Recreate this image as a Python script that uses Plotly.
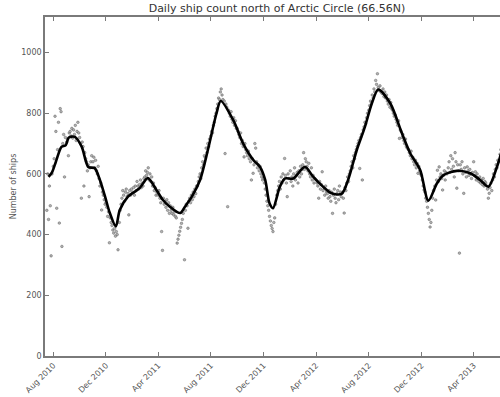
import datetime as dt
import plotly.graph_objects as go

# ---- Data ----
title_text = "Daily ship count north of Arctic Circle (66.56N)"

# Smoothed trend (knots)
line_dates = ["2010-07-21", "2010-07-29", "2010-08-07", "2010-08-20", "2010-08-30", "2010-09-06",
              "2010-09-20", "2010-10-06", "2010-10-21", "2010-11-05", "2010-11-17", "2010-11-29",
              "2010-12-10", "2010-12-24", "2011-01-02", "2011-01-21", "2011-02-01", "2011-02-17",
              "2011-03-08", "2011-03-28", "2011-04-12", "2011-04-28", "2011-05-22", "2011-06-02",
              "2011-06-18", "2011-07-07", "2011-07-25", "2011-08-14", "2011-08-24", "2011-09-22",
              "2011-10-15", "2011-11-08", "2011-11-23", "2011-12-05", "2011-12-15", "2011-12-23",
              "2012-01-08", "2012-01-20", "2012-02-08", "2012-03-06", "2012-03-25", "2012-04-17",
              "2012-05-07", "2012-05-30", "2012-06-14", "2012-07-04", "2012-07-23", "2012-08-08",
              "2012-08-23", "2012-09-20", "2012-10-17", "2012-11-05", "2012-11-28", "2012-12-17",
              "2013-01-06", "2013-01-21", "2013-02-21", "2013-03-24", "2013-04-16", "2013-05-05",
              "2013-05-25", "2013-06-03"]
line_values = [590, 605, 640, 689, 695, 720,
               722, 689, 623, 619, 580, 525,
               471, 427, 481, 525, 537, 553,
               586, 547, 514, 492, 471, 492,
               525, 580, 678, 799, 840, 777,
               700, 645, 623, 580, 503, 487,
               558, 585, 585, 623, 591, 558,
               536, 534, 580, 678, 755, 832,
               878, 832, 733, 668, 613, 512,
               569, 596, 610, 602, 580, 558,
               623, 665]

# Daily-ish counts (every other day), grouped by month block start
scatter_block_starts = ["2010-07-17", "2010-08-01", "2010-09-01", "2010-10-01", "2010-11-01", "2010-12-01",
                        "2011-01-01", "2011-02-01", "2011-03-01", "2011-04-01", "2011-05-01", "2011-06-01",
                        "2011-07-01", "2011-08-01", "2011-09-01", "2011-10-01", "2011-11-01", "2011-12-01",
                        "2012-01-01", "2012-02-01", "2012-03-01", "2012-04-01", "2012-05-01", "2012-06-01",
                        "2012-07-01", "2012-08-01", "2012-09-01", "2012-10-01", "2012-11-01", "2012-12-01",
                        "2013-01-01", "2013-02-01", "2013-03-01", "2013-04-01", "2013-05-01", "2013-06-01"]
scatter_values = [
    [480, 600, 450, 560, 495, 330, 600],
    [625, 650, 790, 740, 487, 680, 770, 438, 815, 805, 361, 700, 730, 590, 720],
    [705, 715, 660, 735, 740, 725, 750, 718, 745, 730, 760, 710, 740, 770, 735],
    [720, 700, 520, 705, 690, 560, 670, 650, 640, 610, 630, 525, 620, 640, 660],
    [640, 655, 620, 645, 610, 600, 625, 585, 560, 570, 481, 540, 530, 515, 500],
    [505, 490, 460, 475, 373, 455, 440, 430, 415, 405, 420, 395, 410, 400, 350],
    [440, 480, 500, 520, 545, 530, 510, 540, 550, 525, 535, 465, 545, 530, 550],
    [540, 555, 530, 560, 545, 575, 560, 550, 565, 580, 555, 570, 560, 585],
    [590, 610, 595, 605, 620, 580, 600, 575, 590, 560, 570, 545, 555, 530, 540],
    [530, 545, 520, 505, 410, 348, 520, 500, 510, 490, 515, 480, 505, 470, 495],
    [480, 470, 490, 465, 475, 460, 455, 372, 385, 398, 411, 424, 437, 450, 470],
    [317, 480, 500, 495, 421, 510, 520, 505, 530, 515, 540, 525, 550, 535, 560],
    [560, 575, 590, 600, 585, 620, 640, 630, 660, 655, 685, 670, 700, 690, 715],
    [725, 740, 735, 760, 770, 790, 800, 815, 830, 850, 845, 870, 880, 860, 845],
    [840, 667, 830, 820, 492, 810, 800, 790, 805, 780, 770, 785, 760, 775, 750],
    [750, 740, 730, 720, 735, 700, 710, 690, 656, 700, 680, 670, 660, 675, 650],
    [640, 580, 650, 602, 630, 700, 685, 640, 620, 630, 610, 625, 600, 590, 580],
    [585, 570, 550, 530, 510, 495, 480, 460, 445, 430, 420, 410, 440, 455, 500],
    [530, 545, 560, 575, 550, 590, 570, 600, 580, 651, 595, 570, 525, 600, 585],
    [610, 575, 590, 560, 600, 620, 580, 595, 605, 570, 610, 590, 625, 600, 615],
    [630, 670, 615, 650, 640, 625, 610, 635, 600, 590, 620, 580, 595, 570, 585],
    [580, 570, 560, 520, 575, 550, 565, 607, 545, 555, 530, 560, 540, 535, 520],
    [545, 525, 510, 540, 470, 530, 550, 520, 505, 535, 545, 515, 560, 540, 525],
    [540, 520, 471, 555, 545, 570, 590, 575, 600, 610, 625, 640, 620, 660, 650],
    [670, 680, 690, 700, 710, 618, 720, 730, 580, 745, 755, 770, 765, 785, 800],
    [810, 825, 840, 835, 860, 850, 880, 870, 908, 895, 930, 885, 875, 890, 870],
    [865, 880, 855, 870, 850, 860, 840, 830, 845, 820, 835, 815, 810, 800, 790],
    [795, 780, 770, 760, 775, 717, 745, 740, 720, 730, 710, 700, 715, 690, 685],
    [680, 670, 660, 675, 650, 655, 640, 630, 645, 620, 635, 602, 625, 610, 600],
    [595, 580, 560, 547, 540, 520, 510, 490, 470, 450, 425, 440, 480, 520, 545],
    [560, 514, 580, 612, 575, 623, 590, 600, 585, 547, 595, 610, 580, 605, 600],
    [620, 640, 605, 660, 615, 650, 625, 590, 670, 640, 553, 630, 610, 339],
    [630, 615, 640, 600, 536, 620, 605, 590, 623, 610, 595, 615, 600, 585, 605],
    [640, 595, 607, 580, 600, 585, 575, 590, 570, 580, 565, 585, 560, 575, 570],
    [560, 550, 520, 536, 555, 570, 545, 580, 600, 590, 615, 630, 620, 645, 640],
    [665, 680],
]

y_ticks = [0, 200, 400, 600, 800, 1000]

# ---- Build scatter dates from the month blocks ----
sc_x, sc_y = [], []
for start, vals in zip(scatter_block_starts, scatter_values):
    d0 = dt.date.fromisoformat(start)
    for j, v in enumerate(vals):
        sc_x.append(d0 + dt.timedelta(days=2 * j))
        sc_y.append(v)

axis_col = "#7a7a7a"
text_col = "#555555"

fig = go.Figure()
fig.add_trace(go.Scatter(
    x=sc_x, y=sc_y, mode="markers",
    marker=dict(size=2.6, color="rgba(170,170,170,0.9)",
                line=dict(color="rgba(80,80,80,0.85)", width=0.5)),
    showlegend=False, hoverinfo="skip"))
fig.add_trace(go.Scatter(
    x=line_dates, y=line_values, mode="lines",
    line=dict(color="black", width=2.6, shape="spline", smoothing=0.8),
    showlegend=False))

fig.update_layout(
    width=500, height=397,
    margin=dict(l=45, r=0, t=17, b=41),
    paper_bgcolor="white", plot_bgcolor="white",
    font=dict(family="DejaVu Sans, sans-serif", size=8, color=text_col),
    title=dict(text=title_text, x=277 / 500, xanchor="center", y=1 - 8 / 397, yanchor="middle",
               font=dict(size=11, color="#333333")),
)
fig.update_xaxes(
    range=["2010-07-12 19:00", "2013-06-01"],
    tickformat="%b %Y", dtick="M4", tick0="2010-08-01", tickangle=-45,
    ticks="inside", ticklen=4, tickcolor=axis_col, tickwidth=1,
    showline=True, linecolor=axis_col, linewidth=1.5, mirror="ticks",
    showgrid=False, zeroline=False, tickfont=dict(size=8, color=text_col),
    automargin=False,
)
fig.update_yaxes(
    range=[0, 1117], tickvals=y_ticks,
    ticks="inside", ticklen=4, tickcolor=axis_col, tickwidth=1,
    showline=True, linecolor=axis_col, linewidth=1.5,
    showgrid=False, zeroline=False, tickfont=dict(size=8, color=text_col),
    title=dict(text="Number of ships", font=dict(size=8, color=text_col), standoff=3),
    automargin=False,
)

fig.write_html("out.html", config={"displayModeBar": False},
               post_script="document.body.style.margin='0';document.body.style.overflow='hidden';")
